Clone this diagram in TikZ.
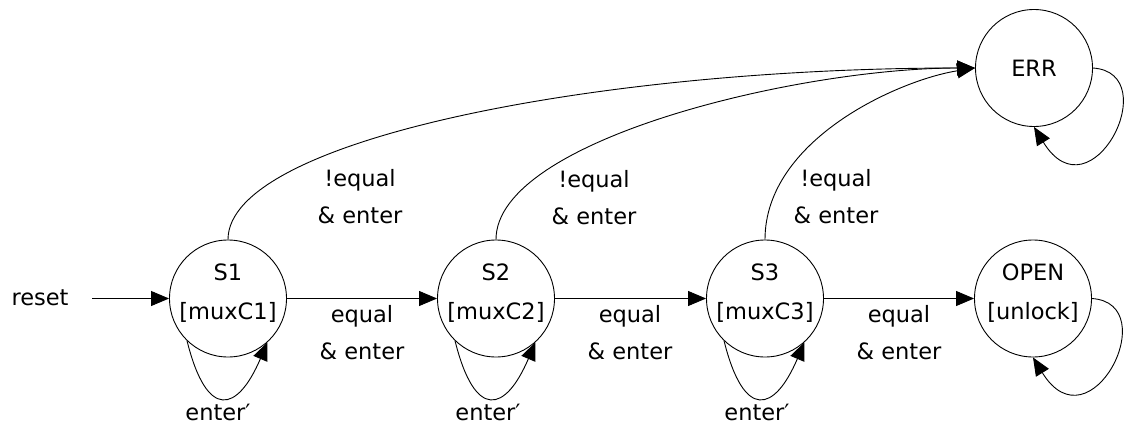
\documentclass[tikz,border=0pt]{standalone}
\usepackage{fontspec}
\setmainfont{DejaVu Sans}
\usetikzlibrary{arrows.meta}
\begin{document}
\begin{tikzpicture}[x=1pt,y=1pt,
  state/.style={circle,draw,line width=0.9pt,minimum size=117pt,inner sep=0pt},
  txt/.style={font=\fontsize{22.5pt}{39pt}\selectfont,align=center,inner sep=0pt},
  lbl/.style={font=\fontsize{22.5pt}{37pt}\selectfont,align=center,inner sep=0pt},
  edge/.style={line width=0.9pt,-{Triangle[length=18pt,width=15pt]}}
]
\useasboundingbox (0,0) rectangle (1125,-426);
% states
\node[state] (S1) at (228,-298.5) {};
\node[state] (S2) at (496,-298.5) {};
\node[state] (S3) at (765,-298.5) {};
\node[state] (OPEN) at (1033,-298.5) {};
\node[state,txt] (ERR) at (1034,-68) {ERR};
\node[txt] (S1t) at ([yshift=5pt]S1.center) {S1\\{}[muxC1]};
\node[txt] (S2t) at ([yshift=5pt]S2.center) {S2\\{}[muxC2]};
\node[txt] (S3t) at ([yshift=5pt]S3.center) {S3\\{}[muxC3]};
\node[txt] (OPENt) at ([yshift=5pt]OPEN.center) {OPEN\\{}[unlock]};
% reset
\node[lbl,anchor=base] (reset) at (40,-305) {reset};
\coordinate (r0) at (92,-298.5);
\draw[edge] (r0) -- (S1);
% forward transitions
\draw[edge] (S1) -- (S2);
\draw[edge] (S2) -- (S3);
\draw[edge] (S3) -- (OPEN);
\node[lbl] (L12) at (362,-333) {equal\\\& enter};
\node[lbl] (L23) at (630,-333) {equal\\\& enter};
\node[lbl] (L3O) at (899,-333) {equal\\\& enter};
% error transitions
\draw[edge] (S1.north) .. controls +(0,100) and +(-376,0) .. (ERR.west);
\draw[edge] (S2.north) .. controls +(0,100) and +(-176,0) .. (ERR.west);
\draw[edge] (S3.north) .. controls +(0,100) and +(-76,-12) .. (ERR.west);
\node[lbl] (E1) at (360,-197) {!equal\\\& enter};
\node[lbl] (E2) at (594,-198) {!equal\\\& enter};
\node[lbl] (E3) at (836,-197) {!equal\\\& enter};
% self loops
\draw[edge] (S1.226) .. controls +(20,-80) and +(-30,-70) .. (S1.312);
\draw[edge] (S2.226) .. controls +(20,-80) and +(-30,-70) .. (S2.312);
\draw[edge] (S3.226) .. controls +(20,-80) and +(-30,-70) .. (S3.312);
\draw[edge] (OPEN.east) .. controls +(73,-5) and +(57,-93) .. (OPEN.south);
\draw[edge] (ERR.east) .. controls +(73,-5) and +(57,-93) .. (ERR.south);
\node[lbl,anchor=base] (N1) at (218,-420) {enter′};
\node[lbl,anchor=base] (N2) at (488,-420) {enter′};
\node[lbl,anchor=base] (N3) at (757,-420) {enter′};
\end{tikzpicture}
\end{document}
